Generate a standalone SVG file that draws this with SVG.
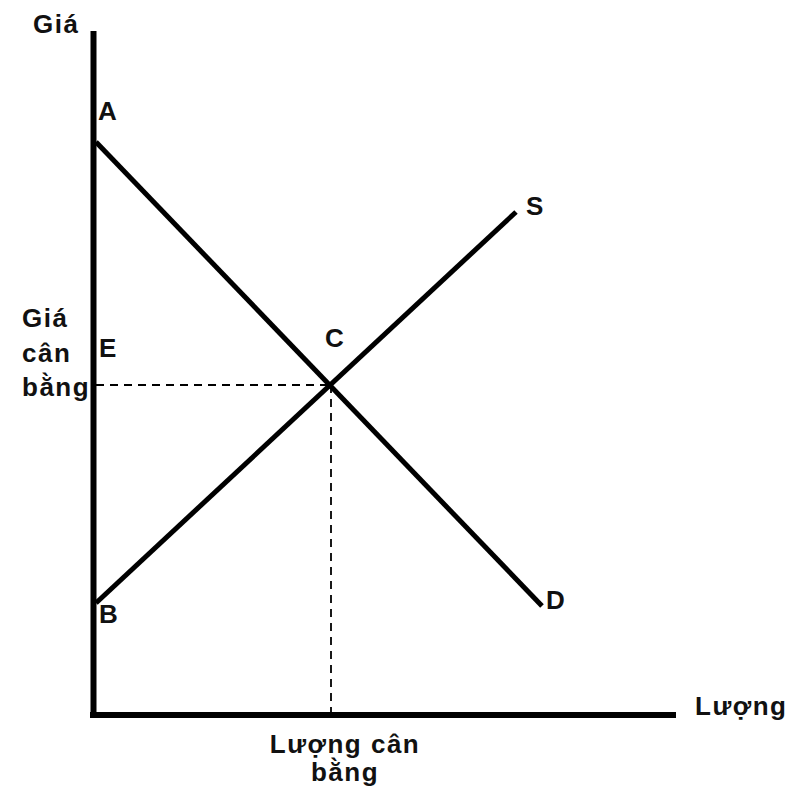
<svg xmlns="http://www.w3.org/2000/svg" width="802" height="795" viewBox="0 0 802 795">
<style>
.t{font-family:"Liberation Sans",Arial,sans-serif;font-weight:bold;font-size:26px;letter-spacing:1.5px;fill:#111}
.ax{stroke:#000;stroke-width:6;fill:none}
.ln{stroke:#000;stroke-width:5;fill:none}
.dash{stroke:#000;stroke-width:1.8;stroke-dasharray:8,6;fill:none}
</style>
<rect width="802" height="795" fill="#fff"/>
<g id="connectors">
<line class="dash" x1="96" y1="385" x2="331" y2="385"/>
<line class="dash" x1="331" y1="385" x2="331" y2="713"/>
<line class="ln" x1="96" y1="142" x2="542" y2="606"/>
<line class="ln" x1="96" y1="603" x2="516" y2="212"/>
</g>
<g id="axes">
<line class="ax" x1="93.5" y1="31" x2="93.5" y2="718"/>
<line class="ax" x1="90" y1="715" x2="676" y2="715"/>
</g>
<g id="labels">
<text class="t" x="33" y="33">Giá</text>
<text class="t" x="98" y="120">A</text>
<text class="t" x="526" y="215">S</text>
<text class="t" x="325" y="347">C</text>
<text class="t" x="99" y="357">E</text>
<text class="t" x="22" y="327">Giá</text>
<text class="t" x="22" y="362">cân</text>
<text class="t" x="22" y="396">bằng</text>
<text class="t" x="99" y="623">B</text>
<text class="t" x="546" y="609">D</text>
<text class="t" x="695" y="715">Lượng</text>
<text class="t" x="345" y="753" text-anchor="middle">Lượng cân</text>
<text class="t" x="345" y="781" text-anchor="middle">bằng</text>
</g>
</svg>
